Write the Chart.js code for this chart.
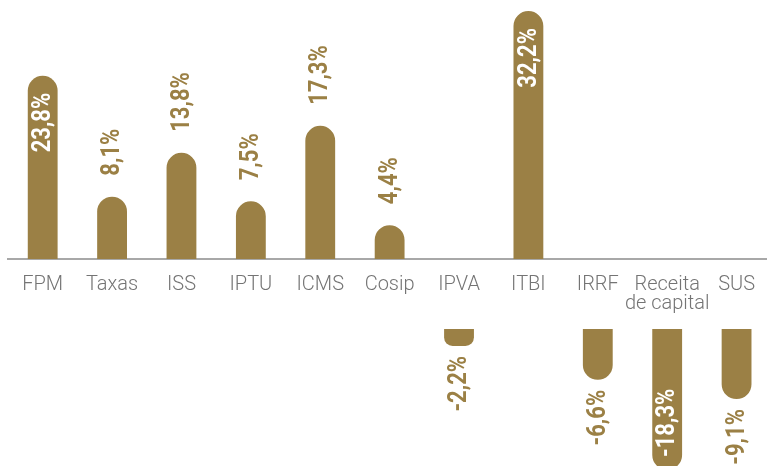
<!DOCTYPE html>
<html>
<head>
<meta charset="utf-8">
<script src="https://cdn.jsdelivr.net/npm/chart.js@4/dist/chart.umd.min.js"></script>
<style>
  html, body { margin: 0; padding: 0; background: #ffffff; overflow: hidden; }
  #wrap { width: 767px; height: 466px; overflow: hidden; position: relative; }
  canvas { display: block; }
</style>
</head>
<body>
<div id="wrap"><canvas id="c" width="772" height="466"></canvas></div>
<script>
const categories = ['FPM', 'Taxas', 'ISS', 'IPTU', 'ICMS', 'Cosip', 'IPVA', 'ITBI', 'IRRF', ['Receita', 'de capital'], 'SUS'];
const values = [23.8, 8.1, 13.8, 7.5, 17.3, 4.4, -2.2, 32.2, -6.6, -18.3, -9.1];

const positiveValues = values.map(v => (v >= 0 ? v : null));
const negativeValues = values.map(v => (v < 0 ? v : null));

const GOLD = '#9b8045';
const LABEL_FONT = 'Roboto, "Noto Sans", sans-serif';
const INSIDE_LIMIT = 18;

const valueLabels = {
  id: 'valueLabels',
  afterDatasetsDraw(chart) {
    const ctx = chart.ctx;
    chart.data.datasets.forEach((ds, di) => {
      const meta = chart.getDatasetMeta(di);
      meta.data.forEach((bar, i) => {
        const v = ds.data[i];
        if (v === null || v === undefined) return;
        const text = v.toFixed(1).replace('.', ',') + '%';
        const inside = Math.abs(v) >= INSIDE_LIMIT;
        let y, align;
        if (v >= 0) {
          if (inside) { y = bar.y + 17; align = 'right'; }
          else { y = bar.y - 21; align = 'left'; }
        } else {
          if (inside) { y = bar.y - 13; align = 'left'; }
          else { y = bar.y + 10; align = 'right'; }
        }
        ctx.save();
        ctx.translate(bar.x, y);
        ctx.rotate(-Math.PI / 2);
        ctx.scale(0.88, 1);
        ctx.font = 'bold 25px ' + LABEL_FONT;
        ctx.fillStyle = inside ? '#ffffff' : GOLD;
        ctx.textAlign = align;
        ctx.textBaseline = 'middle';
        ctx.fillText(text, 0, 1);
        ctx.restore();
      });
    });
  }
};

new Chart(document.getElementById('c'), {
  type: 'bar',
  data: {
    labels: categories,
    datasets: [
      {
        data: positiveValues,
        yAxisID: 'yPos',
        backgroundColor: GOLD,
        borderRadius: 15,
        borderSkipped: 'start',
        barPercentage: 0.43,
        categoryPercentage: 1,
        grouped: false
      },
      {
        data: negativeValues,
        yAxisID: 'yNeg',
        backgroundColor: GOLD,
        borderRadius: 15,
        borderSkipped: 'start',
        barPercentage: 0.43,
        categoryPercentage: 1,
        grouped: false
      }
    ]
  },
  options: {
    responsive: false,
    animation: false,
    layout: { padding: { left: 8, right: 0, top: 0, bottom: 0 } },
    plugins: { legend: { display: false }, tooltip: { enabled: false } },
    scales: {
      x: {
        type: 'category',
        position: { yPos: 0 },
        afterFit(scale) { scale.height = 0; },
        grid: { display: false, drawTicks: false },
        border: { display: true, color: '#a8a8a8', width: 2 },
        ticks: {
          color: '#747474',
          padding: 17,
          maxRotation: 0,
          autoSkip: false,
          font: { family: LABEL_FONT, size: 20, weight: 300, lineHeight: 0.92 }
        }
      },
      yPos: {
        type: 'linear',
        display: false,
        min: -26.88,
        max: 33.64
      },
      yNeg: {
        type: 'linear',
        display: false,
        min: -17.79,
        max: 42.73
      }
    }
  },
  plugins: [valueLabels]
});
</script>
</body>
</html>
